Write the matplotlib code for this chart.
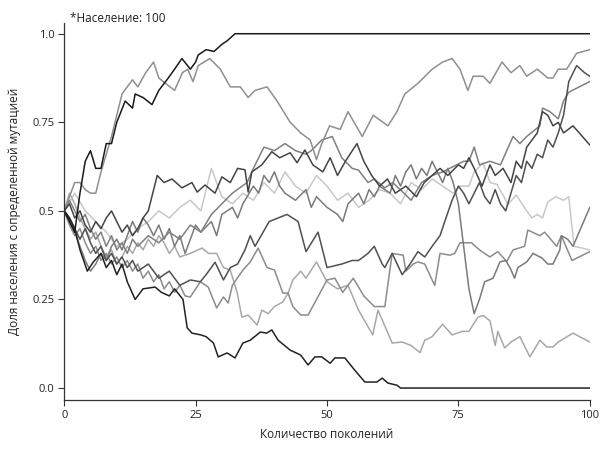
import matplotlib
matplotlib.use("Agg")
from matplotlib import pyplot as plt

plt.rcParams['font.family'] = ['Open Sans', 'DejaVu Sans']

# generation / allele frequency for each simulated population
a_gen = [0, 1, 2, 3, 4, 5, 6, 7, 8, 9, 10, 11.6, 13, 13.5, 15, 16.7, 18, 19.8, 21, 22.4, 24, 25, 25.5, 27, 28.5, 30, 31, 32.5, 100]
a_val = [0.5, 0.47, 0.44, 0.55, 0.64, 0.67, 0.62, 0.62, 0.69, 0.69, 0.75, 0.81, 0.79, 0.83, 0.82, 0.80, 0.84, 0.875, 0.90, 0.93, 0.90, 0.92, 0.94, 0.955, 0.95, 0.97, 0.98, 1.0, 1.0]

b_gen = [0, 1, 2, 3, 4, 5, 6, 7, 9, 11, 13, 14, 15.5, 17, 18, 21, 22.5, 23.5, 24.5, 25.5, 27.7, 29.7, 31.6, 33.5, 35, 36.3, 38.6, 40.5, 43, 45, 46.8, 48, 49, 50.5, 52.5, 54, 56.7, 58.8, 61.6, 63.3, 64.8, 67.3, 70, 72, 73.8, 75.3, 76.8, 77.8, 79.7, 81, 83.3, 85, 86.7, 88, 90, 92, 93, 94, 95.6, 97.5, 100]
b_val = [0.5, 0.54, 0.58, 0.58, 0.56, 0.55, 0.55, 0.61, 0.71, 0.83, 0.87, 0.85, 0.89, 0.92, 0.875, 0.84, 0.89, 0.90, 0.865, 0.91, 0.93, 0.90, 0.85, 0.85, 0.82, 0.84, 0.85, 0.81, 0.75, 0.72, 0.70, 0.645, 0.69, 0.74, 0.73, 0.78, 0.71, 0.77, 0.74, 0.78, 0.83, 0.86, 0.90, 0.92, 0.93, 0.90, 0.84, 0.88, 0.88, 0.86, 0.92, 0.89, 0.91, 0.88, 0.90, 0.875, 0.875, 0.90, 0.90, 0.945, 0.955]

c_gen = [0, 1, 2, 3, 4, 5, 6, 7, 8, 9, 10, 11, 12, 13, 14, 16, 18, 20, 22, 24, 25.9, 27, 28.7, 30.3, 31.6, 33, 34.4, 35.4, 36.3, 39, 42.4, 44.5, 46, 48.3, 50, 52.8, 54.8, 56, 57.8, 59, 60.5, 61, 62.4, 64.3, 65.8, 67.3, 68.6, 70, 71.5, 72.4, 73.8, 75, 76, 77, 78, 79, 80, 81, 82, 83, 84, 85, 86, 87, 88, 89, 90, 91, 92, 93, 94, 95, 96, 97.5, 99, 100]
c_val = [0.5, 0.48, 0.45, 0.42, 0.45, 0.41, 0.38, 0.40, 0.36, 0.38, 0.35, 0.37, 0.34, 0.36, 0.33, 0.35, 0.31, 0.33, 0.29, 0.305, 0.30, 0.32, 0.355, 0.305, 0.34, 0.35, 0.39, 0.43, 0.40, 0.47, 0.49, 0.47, 0.385, 0.44, 0.34, 0.35, 0.36, 0.36, 0.38, 0.40, 0.35, 0.34, 0.38, 0.32, 0.35, 0.385, 0.37, 0.40, 0.43, 0.47, 0.53, 0.57, 0.55, 0.52, 0.55, 0.58, 0.54, 0.52, 0.56, 0.52, 0.50, 0.55, 0.60, 0.58, 0.64, 0.62, 0.66, 0.65, 0.70, 0.68, 0.72, 0.77, 0.865, 0.91, 0.89, 0.88]

d_gen = [0, 1, 2, 3, 4, 5, 6, 7, 8, 9, 10, 11, 12, 13, 14, 16, 18, 20, 22, 24, 26, 28, 30, 32, 34.8, 36, 38, 40, 42, 44, 46, 47, 49, 51, 52.8, 54.8, 56, 57.8, 59, 61, 62.5, 64.3, 66, 68, 70, 72, 74, 76, 77, 78, 79, 81, 83, 85.4, 86.7, 88, 90.5, 91, 92.4, 94, 95, 96, 98, 100]
d_val = [0.5, 0.53, 0.50, 0.47, 0.49, 0.45, 0.42, 0.44, 0.40, 0.43, 0.39, 0.41, 0.38, 0.42, 0.40, 0.43, 0.41, 0.44, 0.42, 0.46, 0.44, 0.49, 0.52, 0.55, 0.58, 0.62, 0.68, 0.67, 0.69, 0.67, 0.66, 0.67, 0.70, 0.71, 0.65, 0.62, 0.615, 0.58, 0.59, 0.565, 0.58, 0.555, 0.53, 0.58, 0.60, 0.61, 0.625, 0.64, 0.64, 0.68, 0.63, 0.64, 0.63, 0.71, 0.69, 0.71, 0.74, 0.79, 0.78, 0.76, 0.81, 0.835, 0.85, 0.865]

e_gen = [0, 1, 2, 3, 4, 5, 6, 7, 8, 9, 10, 11, 12, 13, 14, 15, 16, 17.7, 19, 20.5, 22.4, 24.3, 25.3, 26.8, 28.7, 30, 31.6, 33, 34.4, 35, 35.7, 37.6, 39.5, 41, 43, 44.3, 45.8, 47.3, 49.2, 50.6, 52, 53.5, 55.7, 57, 58.5, 60, 61.5, 63, 65, 67, 68.5, 70, 71.5, 73, 75, 76, 77, 78, 79.5, 81, 82, 83.5, 85, 86, 87, 88, 89, 90, 91, 92, 93, 94, 95, 96.8, 98, 100]
e_val = [0.5, 0.52, 0.48, 0.50, 0.46, 0.44, 0.47, 0.45, 0.48, 0.50, 0.47, 0.44, 0.46, 0.43, 0.45, 0.48, 0.50, 0.60, 0.58, 0.59, 0.565, 0.58, 0.553, 0.573, 0.55, 0.596, 0.58, 0.62, 0.616, 0.553, 0.61, 0.63, 0.667, 0.65, 0.664, 0.636, 0.672, 0.63, 0.61, 0.65, 0.60, 0.64, 0.69, 0.64, 0.60, 0.57, 0.59, 0.55, 0.57, 0.54, 0.58, 0.60, 0.62, 0.60, 0.63, 0.62, 0.65, 0.62, 0.57, 0.63, 0.60, 0.62, 0.58, 0.64, 0.62, 0.68, 0.70, 0.72, 0.78, 0.77, 0.74, 0.75, 0.72, 0.74, 0.72, 0.686]

f_gen = [0, 1, 2, 3, 4, 5, 6, 7, 8, 9, 10, 11, 12, 13, 14, 15, 16, 17, 18, 19, 20, 21, 22, 23, 24, 25, 26, 28, 29, 30, 32, 33, 34, 36, 37, 38, 39, 40, 41, 42, 44, 46, 47, 48, 50, 52, 53, 54, 56, 57, 58, 59, 60, 62, 63, 64, 65, 66, 67, 68, 69, 70, 71, 72, 73, 74, 75, 76, 77, 78, 79, 80, 81.6, 82.9, 84, 84.8, 85.7, 86.3, 88, 89.2, 90.9, 92, 93, 94.3, 94.6, 95.8, 96.8, 100]
f_val = [0.5, 0.47, 0.44, 0.40, 0.36, 0.33, 0.35, 0.38, 0.36, 0.40, 0.42, 0.39, 0.43, 0.47, 0.44, 0.48, 0.46, 0.43, 0.46, 0.42, 0.45, 0.40, 0.43, 0.38, 0.42, 0.46, 0.44, 0.47, 0.43, 0.49, 0.51, 0.48, 0.52, 0.57, 0.55, 0.60, 0.58, 0.61, 0.57, 0.55, 0.53, 0.56, 0.51, 0.54, 0.51, 0.49, 0.47, 0.52, 0.55, 0.52, 0.56, 0.54, 0.57, 0.55, 0.60, 0.57, 0.61, 0.63, 0.59, 0.62, 0.60, 0.64, 0.61, 0.58, 0.62, 0.58, 0.52, 0.40, 0.28, 0.21, 0.25, 0.30, 0.31, 0.356, 0.36, 0.34, 0.31, 0.34, 0.356, 0.38, 0.367, 0.35, 0.35, 0.39, 0.43, 0.42, 0.40, 0.51]

g_gen = [0, 2, 4, 6, 8, 10, 12, 14, 16, 18, 20, 22, 24, 26, 28, 30, 32, 34, 36, 38, 40, 42, 44, 46, 48, 50, 52, 54, 56, 58, 60, 62, 64, 66, 68, 70, 72, 74, 75.3, 77, 78, 79.7, 81, 82.3, 83.5, 84.4, 86, 88, 89, 90, 91, 92, 93.5, 95, 96, 97, 100]
g_val = [0.5, 0.55, 0.5, 0.47, 0.44, 0.40, 0.42, 0.45, 0.47, 0.50, 0.48, 0.51, 0.53, 0.50, 0.62, 0.54, 0.52, 0.55, 0.53, 0.58, 0.55, 0.61, 0.57, 0.55, 0.60, 0.57, 0.53, 0.55, 0.51, 0.53, 0.56, 0.55, 0.52, 0.58, 0.56, 0.59, 0.57, 0.55, 0.57, 0.57, 0.61, 0.635, 0.58, 0.575, 0.545, 0.517, 0.545, 0.50, 0.48, 0.49, 0.48, 0.525, 0.54, 0.53, 0.54, 0.40, 0.39]

h_gen = [0, 1, 2, 3, 4, 5, 6, 7, 8, 9, 10, 11, 12, 13, 14, 15, 16, 17, 18, 19, 20, 21, 22, 23, 24, 25.9, 27.4, 29, 30.3, 31.2, 32, 34, 35.4, 36.9, 38.6, 40, 41.6, 42.6, 43.5, 45, 46.4, 48, 50, 51.5, 53, 55, 57, 59, 61, 62.4, 64.5, 65, 66.4, 67.3, 68.6, 70, 70.5, 71.5, 73.4, 74.3, 75.3, 77.5, 79, 81, 82.5, 84.2, 85.4, 87.6, 88.2, 90.5, 91.4, 93.7, 94.6, 96.6, 100]
h_val = [0.5, 0.46, 0.43, 0.45, 0.41, 0.38, 0.40, 0.36, 0.38, 0.35, 0.37, 0.34, 0.36, 0.33, 0.35, 0.31, 0.33, 0.30, 0.32, 0.28, 0.30, 0.27, 0.29, 0.26, 0.257, 0.30, 0.285, 0.226, 0.257, 0.24, 0.29, 0.333, 0.356, 0.395, 0.34, 0.333, 0.268, 0.268, 0.23, 0.206, 0.206, 0.25, 0.305, 0.31, 0.27, 0.31, 0.26, 0.23, 0.23, 0.38, 0.375, 0.33, 0.35, 0.356, 0.35, 0.305, 0.29, 0.38, 0.375, 0.38, 0.41, 0.41, 0.39, 0.37, 0.385, 0.357, 0.39, 0.40, 0.446, 0.43, 0.44, 0.40, 0.43, 0.36, 0.385]

i_gen = [0, 1, 2, 3, 4, 5, 6, 7, 8, 9, 10, 11, 12, 13, 14, 15, 16, 17, 18, 19, 20, 21, 22, 24, 26.2, 27.5, 29, 30.3, 31.6, 32.9, 33.8, 35, 36.7, 37.6, 38.8, 40, 41.6, 42.6, 43.5, 45, 46, 48, 50, 52, 54, 56, 58.7, 59.7, 62.4, 64.3, 66, 67.7, 68.6, 70, 72, 73.8, 75.7, 77, 78.7, 79.7, 81, 82, 82.5, 83.8, 85, 86.7, 88.6, 90.5, 91.8, 93, 94, 96.8, 100]
i_val = [0.5, 0.55, 0.52, 0.48, 0.45, 0.42, 0.44, 0.40, 0.37, 0.39, 0.35, 0.37, 0.40, 0.38, 0.41, 0.39, 0.42, 0.40, 0.43, 0.41, 0.38, 0.40, 0.37, 0.38, 0.395, 0.38, 0.38, 0.34, 0.333, 0.27, 0.20, 0.206, 0.178, 0.22, 0.21, 0.23, 0.243, 0.268, 0.305, 0.33, 0.31, 0.356, 0.30, 0.28, 0.29, 0.22, 0.15, 0.22, 0.127, 0.13, 0.12, 0.10, 0.135, 0.145, 0.18, 0.15, 0.16, 0.16, 0.20, 0.205, 0.19, 0.12, 0.16, 0.113, 0.13, 0.145, 0.088, 0.135, 0.116, 0.116, 0.13, 0.155, 0.13]

j_gen = [0, 1, 2, 3, 4.4, 5.5, 7, 8, 9, 10, 11, 12, 13.5, 15, 17.3, 18.5, 20, 21, 22.6, 23.4, 24.3, 26, 27, 28.4, 29.3, 31, 32.5, 34, 35.4, 37.3, 38.5, 39.5, 40.7, 43, 45, 46.4, 47.7, 49, 50.6, 51.5, 53.4, 55.3, 57.2, 59.5, 60.5, 61.6, 63.3, 64, 100]
j_val = [0.5, 0.48, 0.45, 0.39, 0.33, 0.355, 0.38, 0.34, 0.36, 0.32, 0.35, 0.30, 0.25, 0.28, 0.285, 0.27, 0.26, 0.28, 0.25, 0.17, 0.155, 0.15, 0.145, 0.127, 0.088, 0.099, 0.085, 0.127, 0.135, 0.158, 0.155, 0.164, 0.135, 0.107, 0.093, 0.065, 0.088, 0.088, 0.07, 0.085, 0.085, 0.05, 0.017, 0.017, 0.028, 0.014, 0.008, 0.0, 0.0]

series = [
    (g_gen, g_val, '#c8c8c8'),
    (i_gen, i_val, '#a8a8a8'),
    (h_gen, h_val, '#8c8c8c'),
    (f_gen, f_val, '#7a7a7a'),
    (d_gen, d_val, '#808080'),
    (b_gen, b_val, '#8f8f8f'),
    (e_gen, e_val, '#444444'),
    (c_gen, c_val, '#505050'),
    (j_gen, j_val, '#222222'),
    (a_gen, a_val, '#1a1a1a'),
]

fig = plt.figure(figsize=(6, 4.62), dpi=100)
ax = fig.add_axes([0.107, 0.134, 0.876, 0.816])

for gen, val, col in series:
    ax.plot(gen, val, color=col, lw=1.1)

ax.set_xlim(0, 100)
ax.set_ylim(-0.034, 1.03)
ax.set_xticks([0, 25, 50, 75, 100])
ax.set_yticks([0, 0.25, 0.5, 0.75, 1.0])
ax.set_yticklabels(['0.0', '0.25', '0.5', '0.75', '1.0'])
ax.tick_params(labelsize=8, length=4, width=0.8, color='#333333', labelcolor='#222222', pad=3)
for s in ['top', 'right']:
    ax.spines[s].set_visible(False)
for s in ['left', 'bottom']:
    ax.spines[s].set_color('#333333')
    ax.spines[s].set_linewidth(0.9)

ax.set_xlabel('Количество поколений', fontsize=8.5, color='#222222', labelpad=5)
ax.set_ylabel('Доля населения с определенной мутацией', fontsize=8.5, color='#222222', labelpad=8)
fig.text(0.117, 0.961, '*Население: 100', fontsize=8.5, color='#222222', va='center')

fig.savefig('out.png', dpi=100)
